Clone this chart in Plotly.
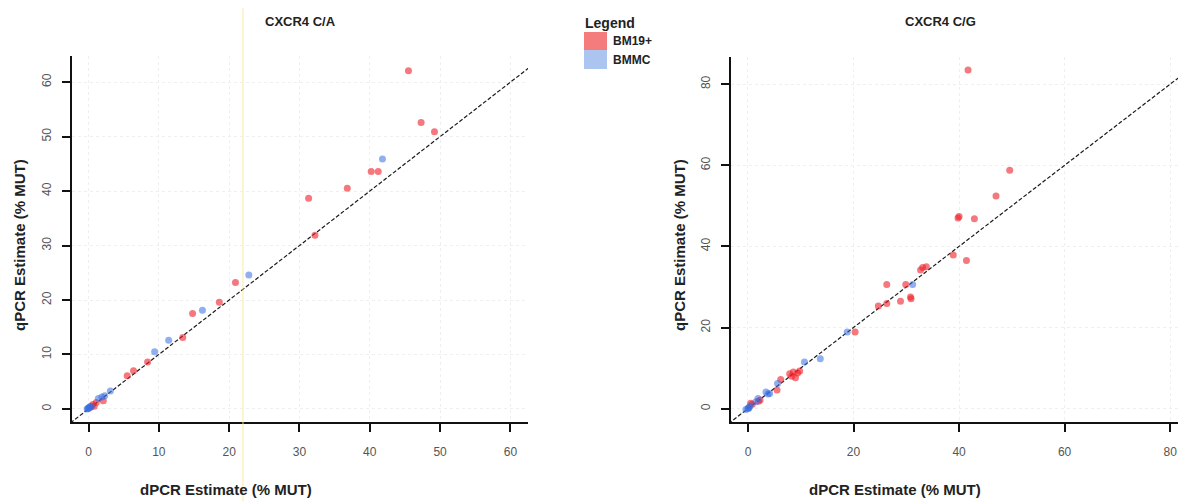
import plotly.graph_objects as go

# ---- data ----
ca_bm19_x = [45.5, 47.3, 49.2, 40.2, 41.2, 36.8, 31.3, 32.2, 20.9, 18.6, 14.8, 13.4, 8.4, 6.4, 5.5, 2.1, 1.1, 0.6, 0.8, 0.3]
ca_bm19_y = [62.1, 52.6, 50.9, 43.6, 43.6, 40.5, 38.7, 31.9, 23.2, 19.6, 17.5, 13.1, 8.6, 7.0, 6.1, 1.5, 1.2, 0.8, 0.5, 0.3]
ca_bmmc_x = [41.8, 22.8, 16.2, 11.4, 9.4, 3.1, 1.9, 1.4, 2.3, 0.4, 0.0, -0.2, 0.1, 0.2, -0.1]
ca_bmmc_y = [45.9, 24.6, 18.1, 12.6, 10.5, 3.3, 2.2, 1.9, 2.4, 0.5, 0.1, 0.0, 0.3, 0.4, 0.1]

cg_bm19_x = [41.7, 49.6, 47.0, 39.8, 40.0, 42.9, 38.9, 41.4, 32.7, 33.1, 33.8, 26.3, 29.9, 30.8, 30.9, 28.9,
             26.3, 24.7, 20.3, 7.9, 8.6, 9.4, 9.8, 9.0, 8.3, 6.2, 5.5, 2.3, 2.0, 0.8, 0.5]
cg_bm19_y = [83.5, 58.8, 52.4, 47.0, 47.4, 46.8, 37.9, 36.5, 34.2, 34.8, 35.0, 30.6, 30.6, 27.5, 27.1, 26.5,
             25.9, 25.3, 18.9, 8.6, 9.0, 8.8, 9.3, 7.6, 8.0, 7.2, 4.6, 2.1, 1.8, 1.1, 1.3]
cg_bmmc_x = [31.2, 18.8, 13.7, 10.7, 5.6, 4.1, 3.4, 3.8, 1.9, 1.5, 0.4, 0.0, -0.4, 0.2, 0.1]
cg_bmmc_y = [30.6, 18.9, 12.3, 11.5, 6.2, 3.7, 4.1, 3.6, 2.5, 1.7, 0.65, 0.1, -0.2, 0.3, 0.0]

identity_line = [-10, 100]

panel_titles = ["CXCR4 C/A", "CXCR4 C/G"]
series_names = ["BM19+", "BMMC"]
ca_ticks = [0, 10, 20, 30, 40, 50, 60]
cg_ticks = [0, 20, 40, 60, 80]

# ---- styling ----
OFF = 8  # default page body margin
W, H = 1186 - OFF, 501 - OFF
RED = "rgba(238,30,40,0.6)"
BLUE = "rgba(55,110,225,0.55)"
FONT = "Liberation Sans, Arial, sans-serif"


def px_x(p):
    return (p - OFF) / W


def px_y(p):
    return 1 - (p - OFF) / H


fig = go.Figure()

panels = [
    ("x", "y", ca_bm19_x, ca_bm19_y, ca_bmmc_x, ca_bmmc_y),
    ("x2", "y2", cg_bm19_x, cg_bm19_y, cg_bmmc_x, cg_bmmc_y),
]
for xa, ya, rx, ry, bx, by in panels:
    fig.add_trace(go.Scatter(x=identity_line, y=identity_line, mode="lines", xaxis=xa, yaxis=ya,
                             line=dict(color="#1a1a1a", width=1.2, dash="4px,2px"),
                             showlegend=False, hoverinfo="skip"))
    fig.add_trace(go.Scatter(x=rx, y=ry, mode="markers", xaxis=xa, yaxis=ya, name=series_names[0],
                             marker=dict(color=RED, size=7, line=dict(width=0)), showlegend=False))
    fig.add_trace(go.Scatter(x=bx, y=by, mode="markers", xaxis=xa, yaxis=ya, name=series_names[1],
                             marker=dict(color=BLUE, size=7, line=dict(width=0)), showlegend=False))

common_axis = dict(
    showline=True, linecolor="#111", linewidth=2, mirror=False,
    ticks="outside", ticklen=8, tickwidth=1.5, tickcolor="#111",
    showgrid=True, gridcolor="#efefef", griddash="dot", gridwidth=1,
    zeroline=False, tickfont=dict(family=FONT, size=12, color="#555"),
    fixedrange=True,
)

fig.update_layout(
    width=W, height=H,
    margin=dict(l=0, r=0, t=0, b=0),
    paper_bgcolor="white", plot_bgcolor="white",
    showlegend=False,
    xaxis=dict(domain=[px_x(72), px_x(528)], range=[-2.35, 62.5], tickvals=ca_ticks,
               anchor="y", ticklabelstandoff=10, **common_axis),
    yaxis=dict(domain=[px_y(422), px_y(56)], range=[-2.4, 64.8], tickvals=ca_ticks,
               anchor="x", tickangle=-90, ticklabelstandoff=6, **common_axis),
    xaxis2=dict(domain=[px_x(731), 1.0], range=[-3.22, 83.0], tickvals=cg_ticks,
                anchor="y2", ticklabelstandoff=10, **common_axis),
    yaxis2=dict(domain=[px_y(422), px_y(57)], range=[-3.3, 86.7], tickvals=cg_ticks,
                anchor="x2", tickangle=-90, ticklabelstandoff=6, **common_axis),
)

ann = []
# panel titles
ann.append(dict(x=px_x(300), y=px_y(22), text="<b>%s</b>" % panel_titles[0]))
ann.append(dict(x=px_x(940), y=px_y(22), text="<b>%s</b>" % panel_titles[1]))
# axis titles
for cx in (226, 895):
    ann.append(dict(x=px_x(cx), y=px_y(489), text="<b>dPCR Estimate (% MUT)</b>",
                    font=dict(family=FONT, size=15, color="#222")))
for cx in (19, 679):
    ann.append(dict(x=px_x(cx), y=px_y(245), text="<b>qPCR Estimate (% MUT)</b>", textangle=-90,
                    font=dict(family=FONT, size=15, color="#222")))
# legend
ann.append(dict(x=px_x(583), y=px_y(23), text="<b>Legend</b>", xanchor="left",
                font=dict(family=FONT, size=14, color="#222")))
ann.append(dict(x=px_x(611), y=px_y(41), text="<b>%s</b>" % series_names[0], xanchor="left",
                font=dict(family=FONT, size=12, color="#222")))
ann.append(dict(x=px_x(611), y=px_y(60), text="<b>%s</b>" % series_names[1], xanchor="left",
                font=dict(family=FONT, size=12, color="#222")))
for a in ann:
    a.setdefault("xref", "paper")
    a.setdefault("yref", "paper")
    a.setdefault("showarrow", False)
    a.setdefault("xanchor", "center")
    a.setdefault("yanchor", "middle")
    a.setdefault("font", dict(family=FONT, size=13, color="#222"))
fig.update_layout(annotations=ann)

shapes = [
    dict(type="rect", xref="paper", yref="paper", x0=px_x(584), x1=px_x(607), y0=px_y(50), y1=px_y(32),
         fillcolor="#f47c7c", line=dict(width=0)),
    dict(type="rect", xref="paper", yref="paper", x0=px_x(584), x1=px_x(607), y0=px_y(69), y1=px_y(50),
         fillcolor="#abc4f0", line=dict(width=0)),
    # faint yellow screen artefact line in the reference
    dict(type="line", xref="paper", yref="paper", x0=px_x(243), x1=px_x(243), y0=0, y1=1,
         line=dict(color="rgba(250,230,150,0.6)", width=1.5), layer="above"),
]
fig.update_layout(shapes=shapes)

fig.write_html("out.html", config={"displayModeBar": False})
